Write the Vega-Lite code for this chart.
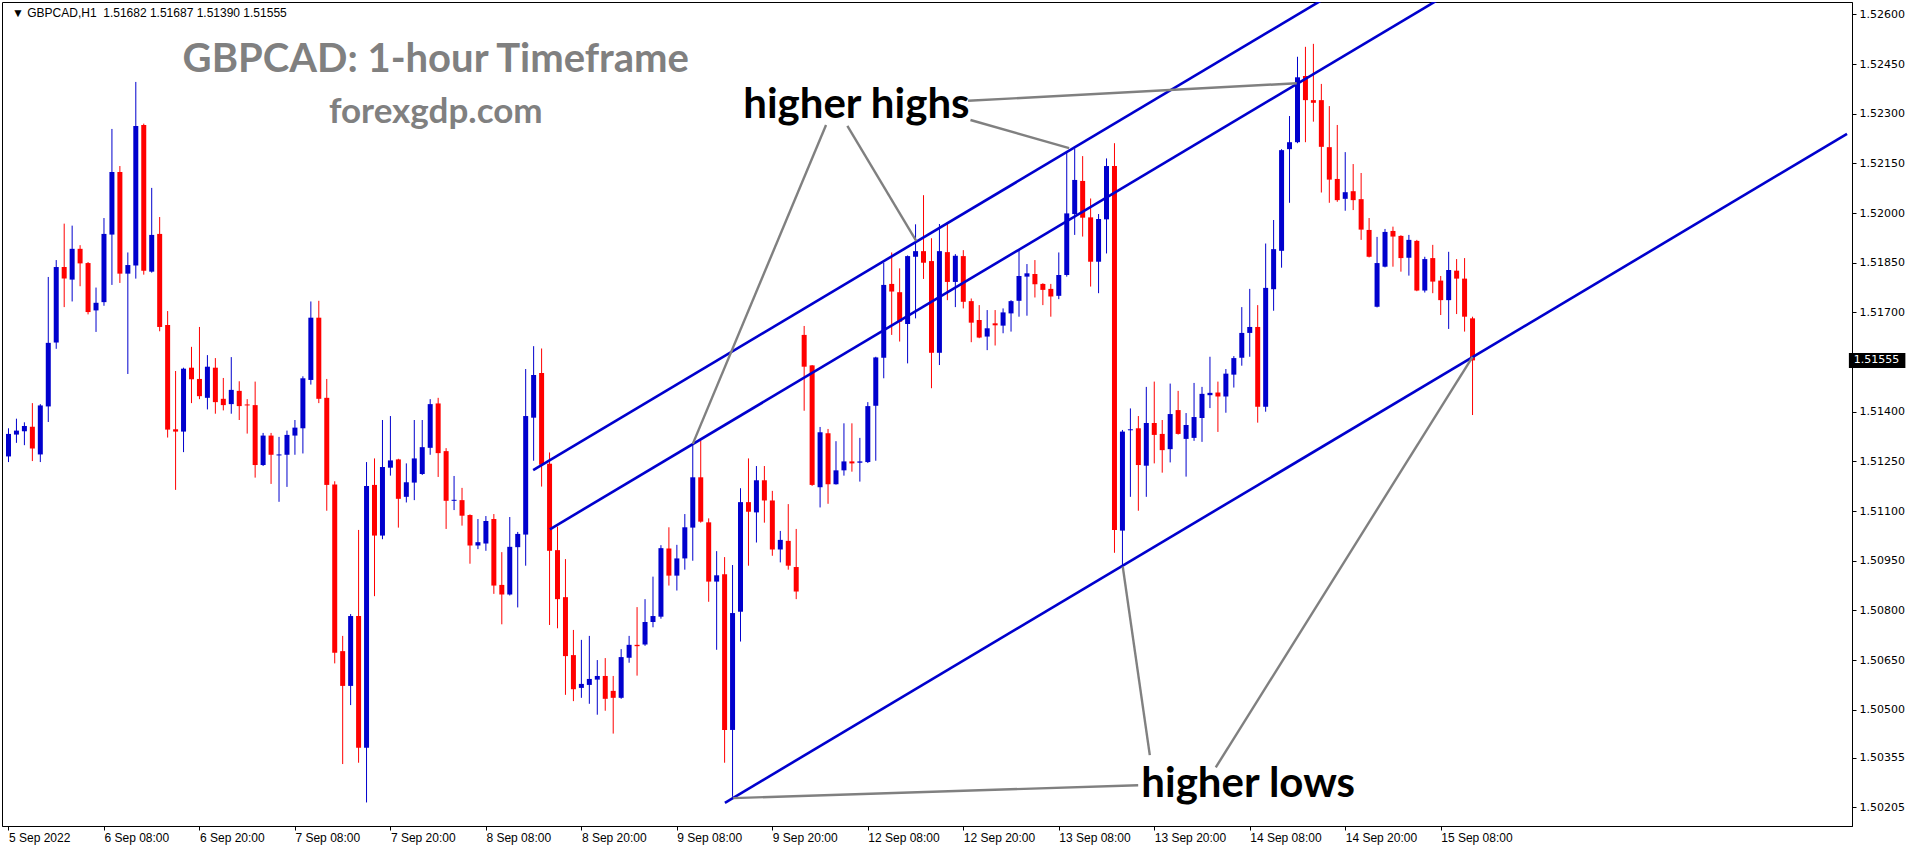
{
  "$schema": "https://vega.github.io/schema/vega-lite/v6.json",
  "width": 1850,
  "height": 824,
  "autosize": {"type": "none"},
  "padding": {"left": 2, "top": 2, "right": 64, "bottom": 24},
  "background": "white",
  "view": {"stroke": "black", "strokeWidth": 1},
  "config": {"axis": {"grid": false, "domainColor": "black", "tickColor": "black", "labelColor": "black"}},
  "datasets": {
    "candles": [
      {"i":0,"o":1.51265,"h":1.5135,"l":1.51248,"c":1.51333},
      {"i":1,"o":1.51331,"h":1.51379,"l":1.51306,"c":1.51343},
      {"i":2,"o":1.51341,"h":1.51368,"l":1.51299,"c":1.51357},
      {"i":3,"o":1.51355,"h":1.51426,"l":1.51251,"c":1.51289},
      {"i":4,"o":1.51271,"h":1.51423,"l":1.51248,"c":1.51419},
      {"i":5,"o":1.51416,"h":1.51807,"l":1.51369,"c":1.51608},
      {"i":6,"o":1.51609,"h":1.51858,"l":1.5159,"c":1.51837},
      {"i":7,"o":1.51837,"h":1.51968,"l":1.51716,"c":1.51802},
      {"i":8,"o":1.51799,"h":1.51962,"l":1.51733,"c":1.51892},
      {"i":9,"o":1.51892,"h":1.51903,"l":1.51779,"c":1.51848},
      {"i":10,"o":1.51849,"h":1.51852,"l":1.51694,"c":1.51701},
      {"i":11,"o":1.51706,"h":1.51775,"l":1.51641,"c":1.51729},
      {"i":12,"o":1.51731,"h":1.51985,"l":1.5172,"c":1.51937},
      {"i":13,"o":1.51935,"h":1.52254,"l":1.51783,"c":1.52124},
      {"i":14,"o":1.52124,"h":1.52142,"l":1.51789,"c":1.51817},
      {"i":15,"o":1.51817,"h":1.51881,"l":1.51514,"c":1.51843},
      {"i":16,"o":1.51842,"h":1.52396,"l":1.51802,"c":1.52263},
      {"i":17,"o":1.52266,"h":1.5227,"l":1.51814,"c":1.51826},
      {"i":18,"o":1.51823,"h":1.52076,"l":1.5182,"c":1.51934},
      {"i":19,"o":1.51937,"h":1.51988,"l":1.51643,"c":1.51656},
      {"i":20,"o":1.51662,"h":1.51704,"l":1.51322,"c":1.51346},
      {"i":21,"o":1.51347,"h":1.51523,"l":1.51164,"c":1.5134},
      {"i":22,"o":1.5134,"h":1.51533,"l":1.51278,"c":1.5153},
      {"i":23,"o":1.51533,"h":1.51596,"l":1.51426,"c":1.51498},
      {"i":24,"o":1.51499,"h":1.51656,"l":1.51438,"c":1.51447},
      {"i":25,"o":1.51442,"h":1.51571,"l":1.51407,"c":1.51536},
      {"i":26,"o":1.51533,"h":1.51562,"l":1.51394,"c":1.51429},
      {"i":27,"o":1.51439,"h":1.51502,"l":1.51404,"c":1.5142},
      {"i":28,"o":1.51423,"h":1.51565,"l":1.51394,"c":1.51466},
      {"i":29,"o":1.51463,"h":1.51492,"l":1.51375,"c":1.51417},
      {"i":30,"o":1.51422,"h":1.51438,"l":1.51334,"c":1.51419},
      {"i":31,"o":1.5142,"h":1.51491,"l":1.51201,"c":1.51239},
      {"i":32,"o":1.51239,"h":1.51336,"l":1.51236,"c":1.51328},
      {"i":33,"o":1.51328,"h":1.51336,"l":1.51182,"c":1.5127},
      {"i":34,"o":1.51268,"h":1.51324,"l":1.51128,"c":1.51271},
      {"i":35,"o":1.5127,"h":1.51343,"l":1.51173,"c":1.5133},
      {"i":36,"o":1.51328,"h":1.51375,"l":1.5127,"c":1.51352},
      {"i":37,"o":1.5135,"h":1.51507,"l":1.51274,"c":1.51501},
      {"i":38,"o":1.51496,"h":1.51733,"l":1.51482,"c":1.51684},
      {"i":39,"o":1.51684,"h":1.51735,"l":1.51426,"c":1.51439},
      {"i":40,"o":1.51442,"h":1.51499,"l":1.51101,"c":1.51179},
      {"i":41,"o":1.5118,"h":1.5119,"l":1.5064,"c":1.50672},
      {"i":42,"o":1.50677,"h":1.50723,"l":1.50336,"c":1.50572},
      {"i":43,"o":1.50572,"h":1.50789,"l":1.50514,"c":1.50783},
      {"i":44,"o":1.50783,"h":1.51043,"l":1.5034,"c":1.50385},
      {"i":45,"o":1.50385,"h":1.51248,"l":1.5022,"c":1.51176},
      {"i":46,"o":1.51179,"h":1.51259,"l":1.50843,"c":1.51026},
      {"i":47,"o":1.51026,"h":1.51375,"l":1.51015,"c":1.51233},
      {"i":48,"o":1.51231,"h":1.51387,"l":1.51207,"c":1.51253},
      {"i":49,"o":1.51256,"h":1.51258,"l":1.5105,"c":1.51137},
      {"i":50,"o":1.51143,"h":1.51244,"l":1.51126,"c":1.51187},
      {"i":51,"o":1.51186,"h":1.51375,"l":1.51133,"c":1.51259},
      {"i":52,"o":1.51212,"h":1.51375,"l":1.51209,"c":1.51293},
      {"i":53,"o":1.51291,"h":1.51438,"l":1.5127,"c":1.51423},
      {"i":54,"o":1.51425,"h":1.51442,"l":1.51203,"c":1.51275},
      {"i":55,"o":1.51281,"h":1.5129,"l":1.51046,"c":1.51131},
      {"i":56,"o":1.51131,"h":1.51206,"l":1.51103,"c":1.51134},
      {"i":57,"o":1.51133,"h":1.5117,"l":1.51056,"c":1.51086},
      {"i":58,"o":1.51088,"h":1.5109,"l":1.50941,"c":1.50996},
      {"i":59,"o":1.50996,"h":1.51076,"l":1.50985,"c":1.51006},
      {"i":60,"o":1.51002,"h":1.51085,"l":1.5098,"c":1.5107},
      {"i":61,"o":1.51076,"h":1.51091,"l":1.5085,"c":1.50875},
      {"i":62,"o":1.50877,"h":1.50976,"l":1.50758,"c":1.50848},
      {"i":63,"o":1.50848,"h":1.51082,"l":1.50845,"c":1.50992},
      {"i":64,"o":1.50991,"h":1.51037,"l":1.50809,"c":1.51031},
      {"i":65,"o":1.51029,"h":1.51529,"l":1.50935,"c":1.51387},
      {"i":66,"o":1.51382,"h":1.51598,"l":1.51252,"c":1.51511},
      {"i":67,"o":1.51517,"h":1.51591,"l":1.51174,"c":1.5124},
      {"i":68,"o":1.51243,"h":1.51277,"l":1.50756,"c":1.5098},
      {"i":69,"o":1.50982,"h":1.51053,"l":1.50746,"c":1.50834},
      {"i":70,"o":1.5084,"h":1.50955,"l":1.50545,"c":1.50662},
      {"i":71,"o":1.50665,"h":1.50741,"l":1.50526,"c":1.50562},
      {"i":72,"o":1.50566,"h":1.50711,"l":1.50536,"c":1.50578},
      {"i":73,"o":1.50575,"h":1.50723,"l":1.50518,"c":1.50593},
      {"i":74,"o":1.50591,"h":1.5065,"l":1.50485,"c":1.50602},
      {"i":75,"o":1.50602,"h":1.50656,"l":1.50497,"c":1.50533},
      {"i":76,"o":1.50557,"h":1.50602,"l":1.50428,"c":1.50536},
      {"i":77,"o":1.50536,"h":1.50683,"l":1.50533,"c":1.50659},
      {"i":78,"o":1.50657,"h":1.50723,"l":1.50642,"c":1.50696},
      {"i":79,"o":1.50696,"h":1.5081,"l":1.50603,"c":1.50692},
      {"i":80,"o":1.50697,"h":1.50834,"l":1.50693,"c":1.50765},
      {"i":81,"o":1.50765,"h":1.50902,"l":1.50749,"c":1.50783},
      {"i":82,"o":1.50781,"h":1.50997,"l":1.50775,"c":1.50988},
      {"i":83,"o":1.50987,"h":1.51051,"l":1.50875,"c":1.50905},
      {"i":84,"o":1.50905,"h":1.50998,"l":1.5086,"c":1.50957},
      {"i":85,"o":1.50957,"h":1.51091,"l":1.50923,"c":1.51051},
      {"i":86,"o":1.5105,"h":1.51303,"l":1.5095,"c":1.51202},
      {"i":87,"o":1.51202,"h":1.51313,"l":1.51065,"c":1.51068},
      {"i":88,"o":1.51066,"h":1.51078,"l":1.50826,"c":1.50887},
      {"i":89,"o":1.50887,"h":1.50979,"l":1.50681,"c":1.50906},
      {"i":90,"o":1.50909,"h":1.50961,"l":1.5034,"c":1.50439},
      {"i":91,"o":1.50439,"h":1.50937,"l":1.50237,"c":1.50792},
      {"i":92,"o":1.50796,"h":1.51169,"l":1.50706,"c":1.51127},
      {"i":93,"o":1.51127,"h":1.51259,"l":1.50935,"c":1.51098},
      {"i":94,"o":1.51096,"h":1.51236,"l":1.51005,"c":1.51193},
      {"i":95,"o":1.51193,"h":1.51236,"l":1.51065,"c":1.51132},
      {"i":96,"o":1.51132,"h":1.51161,"l":1.50965,"c":1.50984},
      {"i":97,"o":1.50984,"h":1.5104,"l":1.50945,"c":1.51013},
      {"i":98,"o":1.5101,"h":1.51121,"l":1.50923,"c":1.50935},
      {"i":99,"o":1.50931,"h":1.51046,"l":1.50834,"c":1.50857},
      {"i":100,"o":1.51632,"h":1.51659,"l":1.51403,"c":1.51536},
      {"i":101,"o":1.5154,"h":1.51541,"l":1.51176,"c":1.51179},
      {"i":102,"o":1.51172,"h":1.51354,"l":1.51111,"c":1.51338},
      {"i":103,"o":1.51335,"h":1.51348,"l":1.51122,"c":1.51181},
      {"i":104,"o":1.51181,"h":1.51311,"l":1.5118,"c":1.51223},
      {"i":105,"o":1.51223,"h":1.51365,"l":1.51207,"c":1.5125},
      {"i":106,"o":1.5125,"h":1.51365,"l":1.51219,"c":1.51244},
      {"i":107,"o":1.51246,"h":1.51321,"l":1.51189,"c":1.5125},
      {"i":108,"o":1.51248,"h":1.51429,"l":1.51245,"c":1.51417},
      {"i":109,"o":1.51418,"h":1.51566,"l":1.51252,"c":1.51564},
      {"i":110,"o":1.51563,"h":1.5185,"l":1.51501,"c":1.51783},
      {"i":111,"o":1.51786,"h":1.51881,"l":1.51632,"c":1.51763},
      {"i":112,"o":1.51761,"h":1.51833,"l":1.51612,"c":1.51672},
      {"i":113,"o":1.51665,"h":1.51872,"l":1.51546,"c":1.5187},
      {"i":114,"o":1.51868,"h":1.51966,"l":1.51682,"c":1.51885},
      {"i":115,"o":1.51885,"h":1.52054,"l":1.51801,"c":1.5185},
      {"i":116,"o":1.51855,"h":1.51924,"l":1.51471,"c":1.51578},
      {"i":117,"o":1.51578,"h":1.51967,"l":1.51541,"c":1.51885},
      {"i":118,"o":1.51882,"h":1.51973,"l":1.51737,"c":1.51792},
      {"i":119,"o":1.51792,"h":1.51876,"l":1.51716,"c":1.51871},
      {"i":120,"o":1.5187,"h":1.51888,"l":1.51712,"c":1.51732},
      {"i":121,"o":1.51734,"h":1.51742,"l":1.5161,"c":1.51669},
      {"i":122,"o":1.51677,"h":1.51722,"l":1.51622,"c":1.51624},
      {"i":123,"o":1.51627,"h":1.51707,"l":1.51586,"c":1.51652},
      {"i":124,"o":1.51667,"h":1.51707,"l":1.516,"c":1.51661},
      {"i":125,"o":1.5166,"h":1.51712,"l":1.51637,"c":1.517},
      {"i":126,"o":1.51697,"h":1.51737,"l":1.51642,"c":1.51734},
      {"i":127,"o":1.51735,"h":1.51888,"l":1.51687,"c":1.5181},
      {"i":128,"o":1.51808,"h":1.51846,"l":1.5169,"c":1.51818},
      {"i":129,"o":1.51816,"h":1.51858,"l":1.51745,"c":1.51785},
      {"i":130,"o":1.51786,"h":1.51788,"l":1.51722,"c":1.51768},
      {"i":131,"o":1.51771,"h":1.51786,"l":1.51687,"c":1.51748},
      {"i":132,"o":1.5175,"h":1.51881,"l":1.5174,"c":1.51813},
      {"i":133,"o":1.51813,"h":1.52185,"l":1.51808,"c":1.51999},
      {"i":134,"o":1.51997,"h":1.52195,"l":1.51934,"c":1.521},
      {"i":135,"o":1.52097,"h":1.52172,"l":1.51929,"c":1.51986},
      {"i":136,"o":1.51987,"h":1.52044,"l":1.51778,"c":1.51853},
      {"i":137,"o":1.51853,"h":1.51997,"l":1.51758,"c":1.51982},
      {"i":138,"o":1.51981,"h":1.52165,"l":1.51878,"c":1.52142},
      {"i":139,"o":1.52142,"h":1.52211,"l":1.50974,"c":1.51043},
      {"i":140,"o":1.51041,"h":1.51345,"l":1.50932,"c":1.5134},
      {"i":141,"o":1.51344,"h":1.5141,"l":1.51143,"c":1.51347},
      {"i":142,"o":1.5135,"h":1.51387,"l":1.51101,"c":1.51239},
      {"i":143,"o":1.51237,"h":1.51475,"l":1.51143,"c":1.51366},
      {"i":144,"o":1.51366,"h":1.51491,"l":1.51244,"c":1.5133},
      {"i":145,"o":1.51333,"h":1.51375,"l":1.51216,"c":1.51284},
      {"i":146,"o":1.51287,"h":1.51485,"l":1.51247,"c":1.51393},
      {"i":147,"o":1.51405,"h":1.51463,"l":1.51331,"c":1.51333},
      {"i":148,"o":1.51318,"h":1.51396,"l":1.51204,"c":1.5136},
      {"i":149,"o":1.51321,"h":1.51487,"l":1.51312,"c":1.51384},
      {"i":150,"o":1.51381,"h":1.51475,"l":1.51309,"c":1.51454},
      {"i":151,"o":1.5145,"h":1.51566,"l":1.51411,"c":1.51457},
      {"i":152,"o":1.51458,"h":1.51491,"l":1.51339,"c":1.51446},
      {"i":153,"o":1.51446,"h":1.51529,"l":1.51397,"c":1.51515},
      {"i":154,"o":1.51512,"h":1.51568,"l":1.51473,"c":1.51562},
      {"i":155,"o":1.51563,"h":1.51716,"l":1.51539,"c":1.51638},
      {"i":156,"o":1.51638,"h":1.51771,"l":1.51566,"c":1.51656},
      {"i":157,"o":1.51656,"h":1.51722,"l":1.51367,"c":1.51415},
      {"i":158,"o":1.51415,"h":1.51908,"l":1.514,"c":1.51774},
      {"i":159,"o":1.5177,"h":1.51979,"l":1.51705,"c":1.51891},
      {"i":160,"o":1.51886,"h":1.52193,"l":1.51835,"c":1.5219},
      {"i":161,"o":1.52193,"h":1.52293,"l":1.52031,"c":1.52214},
      {"i":162,"o":1.52214,"h":1.52472,"l":1.52211,"c":1.5241},
      {"i":163,"o":1.52414,"h":1.52502,"l":1.52214,"c":1.52341},
      {"i":164,"o":1.52341,"h":1.52511,"l":1.52276,"c":1.52333},
      {"i":165,"o":1.52341,"h":1.5239,"l":1.52062,"c":1.522},
      {"i":166,"o":1.52199,"h":1.52323,"l":1.52031,"c":1.52101},
      {"i":167,"o":1.52103,"h":1.52266,"l":1.52034,"c":1.52039},
      {"i":168,"o":1.52043,"h":1.52184,"l":1.52007,"c":1.52063},
      {"i":169,"o":1.52066,"h":1.52148,"l":1.52009,"c":1.52039},
      {"i":170,"o":1.52042,"h":1.52121,"l":1.51919,"c":1.5195},
      {"i":171,"o":1.51949,"h":1.51985,"l":1.51866,"c":1.51868},
      {"i":172,"o":1.51717,"h":1.51928,"l":1.51715,"c":1.51849},
      {"i":173,"o":1.51838,"h":1.51952,"l":1.51836,"c":1.51943},
      {"i":174,"o":1.51946,"h":1.51959,"l":1.51838,"c":1.51929},
      {"i":175,"o":1.51931,"h":1.51933,"l":1.51823,"c":1.51864},
      {"i":176,"o":1.51865,"h":1.51934,"l":1.51811,"c":1.51919},
      {"i":177,"o":1.51916,"h":1.51919,"l":1.51764,"c":1.51766},
      {"i":178,"o":1.51766,"h":1.51868,"l":1.5176,"c":1.51861},
      {"i":179,"o":1.51864,"h":1.51904,"l":1.51758,"c":1.51793},
      {"i":180,"o":1.51796,"h":1.5181,"l":1.51692,"c":1.51737},
      {"i":181,"o":1.51737,"h":1.51883,"l":1.5165,"c":1.51828},
      {"i":182,"o":1.51826,"h":1.51861,"l":1.51695,"c":1.51802},
      {"i":183,"o":1.51802,"h":1.51864,"l":1.51642,"c":1.51687},
      {"i":184,"o":1.51682,"h":1.51687,"l":1.5139,"c":1.51555}
    ],
    "lines": [
      {"g":"U","k":"ch","i":65.94,"p":1.51224},
      {"g":"U","k":"ch","i":180,"p":1.52857},
      {"g":"M","k":"ch","i":68.04,"p":1.51045},
      {"g":"M","k":"ch","i":190,"p":1.52792},
      {"g":"L","k":"ch","i":90.04,"p":1.50219},
      {"g":"L","k":"ch","i":231.0625,"p":1.52239},
      {"g":"a","k":"note","i":102.75,"p":1.52266},
      {"g":"a","k":"note","i":86.0,"p":1.51303},
      {"g":"b","k":"note","i":105.43,"p":1.52263},
      {"g":"b","k":"note","i":114.08,"p":1.51916},
      {"g":"c","k":"note","i":120.9,"p":1.52281},
      {"g":"c","k":"note","i":133.3,"p":1.52196},
      {"g":"d","k":"note","i":120.6,"p":1.52339},
      {"g":"d","k":"note","i":161.9,"p":1.52392},
      {"g":"e","k":"note","i":141.98,"p":1.50272},
      {"g":"e","k":"note","i":91.08,"p":1.50233},
      {"g":"f","k":"note","i":143.44,"p":1.50363},
      {"g":"f","k":"note","i":140.04,"p":1.50932},
      {"g":"g","k":"note","i":151.73,"p":1.50326},
      {"g":"g","k":"note","i":184.0,"p":1.51566}
    ]
  },
  "encoding": {
    "x": {
      "field": "i", "type": "quantitative", "title": null,
      "scale": {"domain": [-0.1875, 231.0625], "nice": false, "zero": false},
      "axis": {
        "orient": "bottom",
        "values": [0,12,24,36,48,60,72,84,96,108,120,132,144,156,168,180],
        "labelExpr": "['5 Sep 2022','6 Sep 08:00','6 Sep 20:00','7 Sep 08:00','7 Sep 20:00','8 Sep 08:00','8 Sep 20:00','9 Sep 08:00','9 Sep 20:00','12 Sep 08:00','12 Sep 20:00','13 Sep 08:00','13 Sep 20:00','14 Sep 08:00','14 Sep 20:00','15 Sep 08:00'][round(datum.value/12)]",
        "labelAlign": "left", "labelBaseline": "top", "labelPadding": 2,
        "labelFont": "Liberation Sans", "labelFontSize": 12,
        "tickSize": 4, "labelOverlap": false, "labelFlush": false, "labelBound": false,
        "grid": false, "title": null
      }
    }
  },
  "layer": [
    {
      "data": {"values": [{"p": 1.51555}]},
      "mark": {"type": "rule", "color": "#778899", "strokeWidth": 1},
      "encoding": {
        "y": {"field": "p", "type": "quantitative", "title": null,
          "scale": {"domain": [1.501489, 1.526374], "nice": false, "zero": false},
          "axis": {
            "orient": "right",
            "values": [1.526,1.5245,1.523,1.5215,1.52,1.5185,1.517,1.514,1.5125,1.511,1.5095,1.508,1.5065,1.505,1.50355,1.50205],
            "format": ".5f", "labelFont": "DejaVu Sans", "labelFontSize": 11,
            "tickSize": 4, "labelPadding": 3, "labelOverlap": false, "labelFlush": false,
            "labelBaseline": "middle", "grid": false, "title": null
          }
        }
      }
    },
    {
      "data": {"name": "candles"},
      "mark": {"type": "rule", "strokeWidth": 1},
      "encoding": {
        "y": {"field": "l", "type": "quantitative", "title": null},
        "y2": {"field": "h"},
        "color": {"condition": {"test": "datum.c >= datum.o", "value": "#0000CD"}, "value": "#FF0000"}
      }
    },
    {
      "data": {"name": "candles"},
      "mark": {"type": "bar", "width": 5},
      "encoding": {
        "y": {"field": "o", "type": "quantitative", "title": null},
        "y2": {"field": "c"},
        "color": {"condition": {"test": "datum.c >= datum.o", "value": "#0000CD"}, "value": "#FF0000"}
      }
    },
    {
      "data": {"name": "lines"},
      "transform": [{"filter": "datum.k == 'ch'"}],
      "mark": {"type": "line", "color": "#0000CD", "strokeWidth": 2.6, "clip": true},
      "encoding": {
        "y": {"field": "p", "type": "quantitative", "title": null},
        "detail": {"field": "g"}
      }
    },
    {
      "data": {"name": "lines"},
      "transform": [{"filter": "datum.k == 'note'"}],
      "mark": {"type": "line", "color": "#808080", "strokeWidth": 2.4, "clip": true},
      "encoding": {
        "y": {"field": "p", "type": "quantitative", "title": null},
        "detail": {"field": "g"}
      }
    },
    {
      "data": {"values": [{"t": "GBPCAD: 1-hour Timeframe", "i": 53.7, "p": 1.52427}]},
      "mark": {"type": "text", "font": "Lato", "fontWeight": "bold", "fontSize": 40, "color": "#808080", "align": "center", "baseline": "alphabetic"},
      "encoding": {"y": {"field": "p", "type": "quantitative", "title": null}, "text": {"field": "t"}}
    },
    {
      "data": {"values": [{"t": "forexgdp.com", "i": 53.7, "p": 1.52272}]},
      "mark": {"type": "text", "font": "Lato", "fontWeight": "bold", "fontSize": 35, "color": "#808080", "align": "center", "baseline": "alphabetic"},
      "encoding": {"y": {"field": "p", "type": "quantitative", "title": null}, "text": {"field": "t"}}
    },
    {
      "data": {"values": [{"t": "higher highs", "i": 106.56, "p": 1.52287}, {"t": "higher lows", "i": 155.8, "p": 1.50236}]},
      "mark": {"type": "text", "font": "Lato", "fontWeight": "bold", "fontSize": 42, "color": "black", "align": "center", "baseline": "alphabetic"},
      "encoding": {"y": {"field": "p", "type": "quantitative", "title": null}, "text": {"field": "t"}}
    },
    {
      "data": {"values": [{"t": "▼ GBPCAD,H1\u00a0\u00a01.51682 1.51687 1.51390 1.51555", "i": 0.44, "p": 1.52592}]},
      "mark": {"type": "text", "font": "Liberation Sans", "fontSize": 12, "color": "black", "align": "left", "baseline": "alphabetic"},
      "encoding": {"y": {"field": "p", "type": "quantitative", "title": null}, "text": {"field": "t"}}
    },
    {
      "data": {"values": [{"i": 231.3, "i2": 238.4, "p": 1.51532, "p2": 1.51577}]},
      "mark": {"type": "rect", "color": "black", "clip": false},
      "encoding": {
        "x2": {"field": "i2"},
        "y": {"field": "p", "type": "quantitative", "title": null},
        "y2": {"field": "p2"}
      }
    },
    {
      "data": {"values": [{"t": "1.51555", "i": 231.9, "p": 1.51555}]},
      "mark": {"type": "text", "font": "DejaVu Sans", "fontSize": 11, "color": "white", "align": "left", "baseline": "middle", "clip": false},
      "encoding": {"y": {"field": "p", "type": "quantitative", "title": null}, "text": {"field": "t"}}
    }
  ]
}
